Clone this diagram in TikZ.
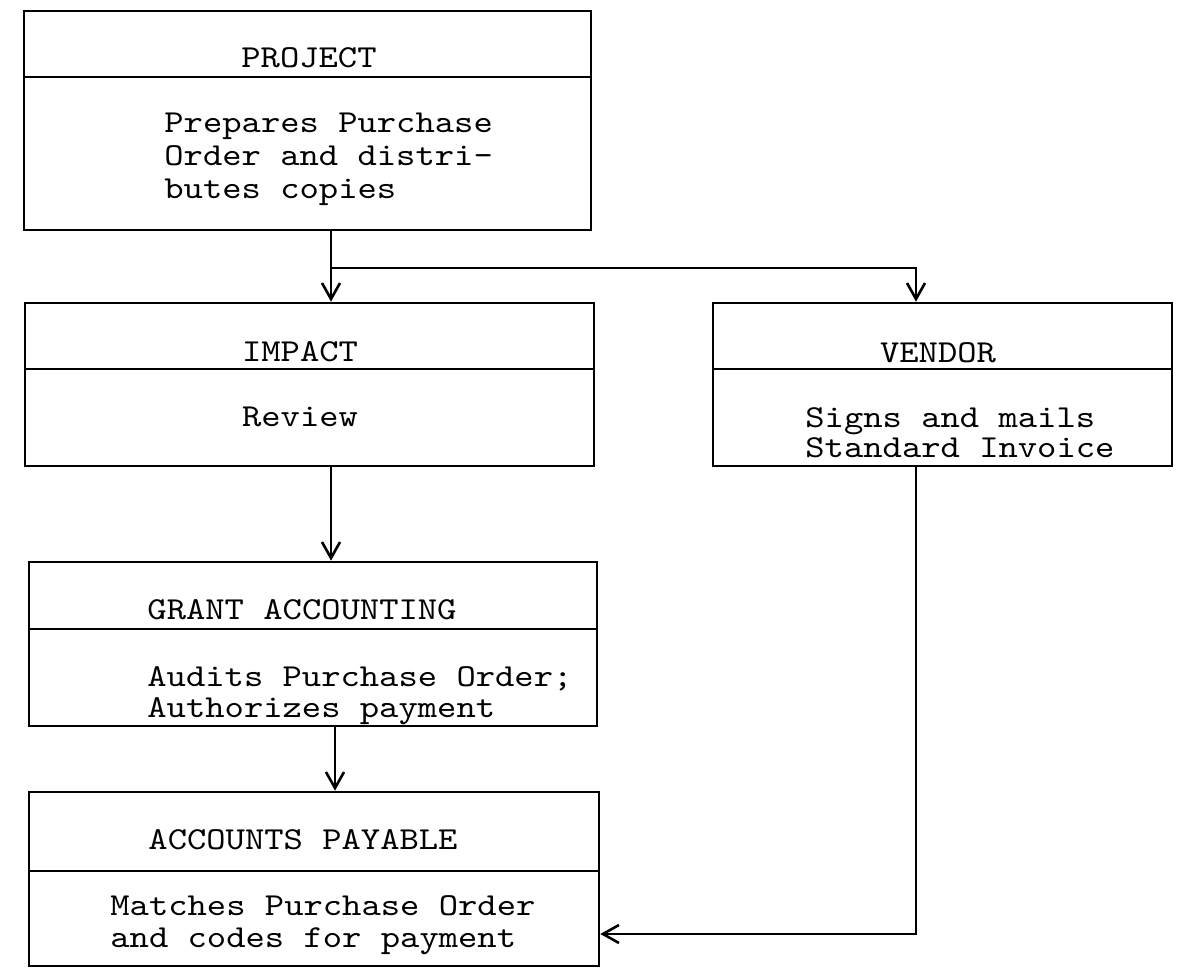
\documentclass[tikz,border=0pt]{standalone}
\usepackage{fontspec}
\newfontfamily\tw[FakeStretch=1.15]{lmmono10-regular.otf}
\usetikzlibrary{arrows.meta,calc}
\begin{document}
\begin{tikzpicture}[x=0.5pt,y=-0.5pt,
  box/.style={draw, line width=1.3pt, inner sep=0pt, rectangle},
  rule/.style={line width=1.3pt},
  arr/.style={line width=1.2pt, -{Straight Barb[length=8pt,width=9pt,line width=1.3pt]}},
  ttl/.style={anchor=base, inner sep=0pt, font=\tw\fontsize{16}{18}\selectfont},
  bdy/.style={anchor=base west, inner sep=0pt, font=\tw\fontsize{16}{18}\selectfont}]
\useasboundingbox (0,0) rectangle (1189,972);
\fill[white] (0,0) rectangle (1189,972);

% boxes
\node[box, minimum width=283.5pt, minimum height=109.5pt] (project) at (307.5,120.5) {};
\node[box, minimum width=284.5pt, minimum height=81.5pt] (impact) at (309.5,384.5) {};
\node[box, minimum width=229.5pt, minimum height=81.5pt] (vendor) at (942.5,384.5) {};
\node[box, minimum width=284pt, minimum height=82pt] (grant) at (313,644) {};
\node[box, minimum width=285pt, minimum height=87pt] (ap) at (314,879) {};

% dividers
\draw[rule] (project.west |- 0,77) -- (project.east |- 0,77);
\draw[rule] (impact.west |- 0,369) -- (impact.east |- 0,369);
\draw[rule] (vendor.west |- 0,369) -- (vendor.east |- 0,369);
\draw[rule] (grant.west |- 0,629) -- (grant.east |- 0,629);
\draw[rule] (ap.west |- 0,871) -- (ap.east |- 0,871);

% titles
\node[ttl] (tproject) at (309,68) {PROJECT};
\node[ttl] (timpact) at (300,362) {IMPACT};
\node[ttl] (tvendor) at (938,363) {VENDOR};
\node[ttl] (tgrant) at (302,620) {GRANT ACCOUNTING};
\node[ttl] (tap) at (303,849) {ACCOUNTS PAYABLE};

% bodies
\node[bdy] (p1) at (164,133) {Prepares Purchase};
\node[bdy] (p2) at (164,166) {Order and distri-};
\node[bdy] (p3) at (164,199) {butes copies};
\node[ttl] (i1) at (300,427) {Review};
\node[bdy] (v1) at (805,428) {Signs and mails};
\node[bdy] (v2) at (805,458) {Standard Invoice};
\node[bdy] (g1) at (147,687) {Audits Purchase Order;};
\node[bdy] (g2) at (147,718) {Authorizes payment};
\node[bdy] (a1) at (110,915) {Matches Purchase Order};
\node[bdy] (a2) at (110,947) {and codes for payment};

% connectors
\coordinate (xa) at (331,0);
\coordinate (xb) at (335,0);
\coordinate (xv) at (916,0);
\coordinate (br) at (331,268);
\coordinate (yr) at (0,934);
\draw[arr] (project.south -| xa) -- (impact.north -| xa);
\draw[arr] (br) -| (vendor.north -| xv);
\draw[arr] (impact.south -| xa) -- (grant.north -| xa);
\draw[arr] (grant.south -| xb) -- (ap.north -| xb);
\draw[arr] (vendor.south -| xv) |- (ap.east |- yr);
\end{tikzpicture}
\end{document}
